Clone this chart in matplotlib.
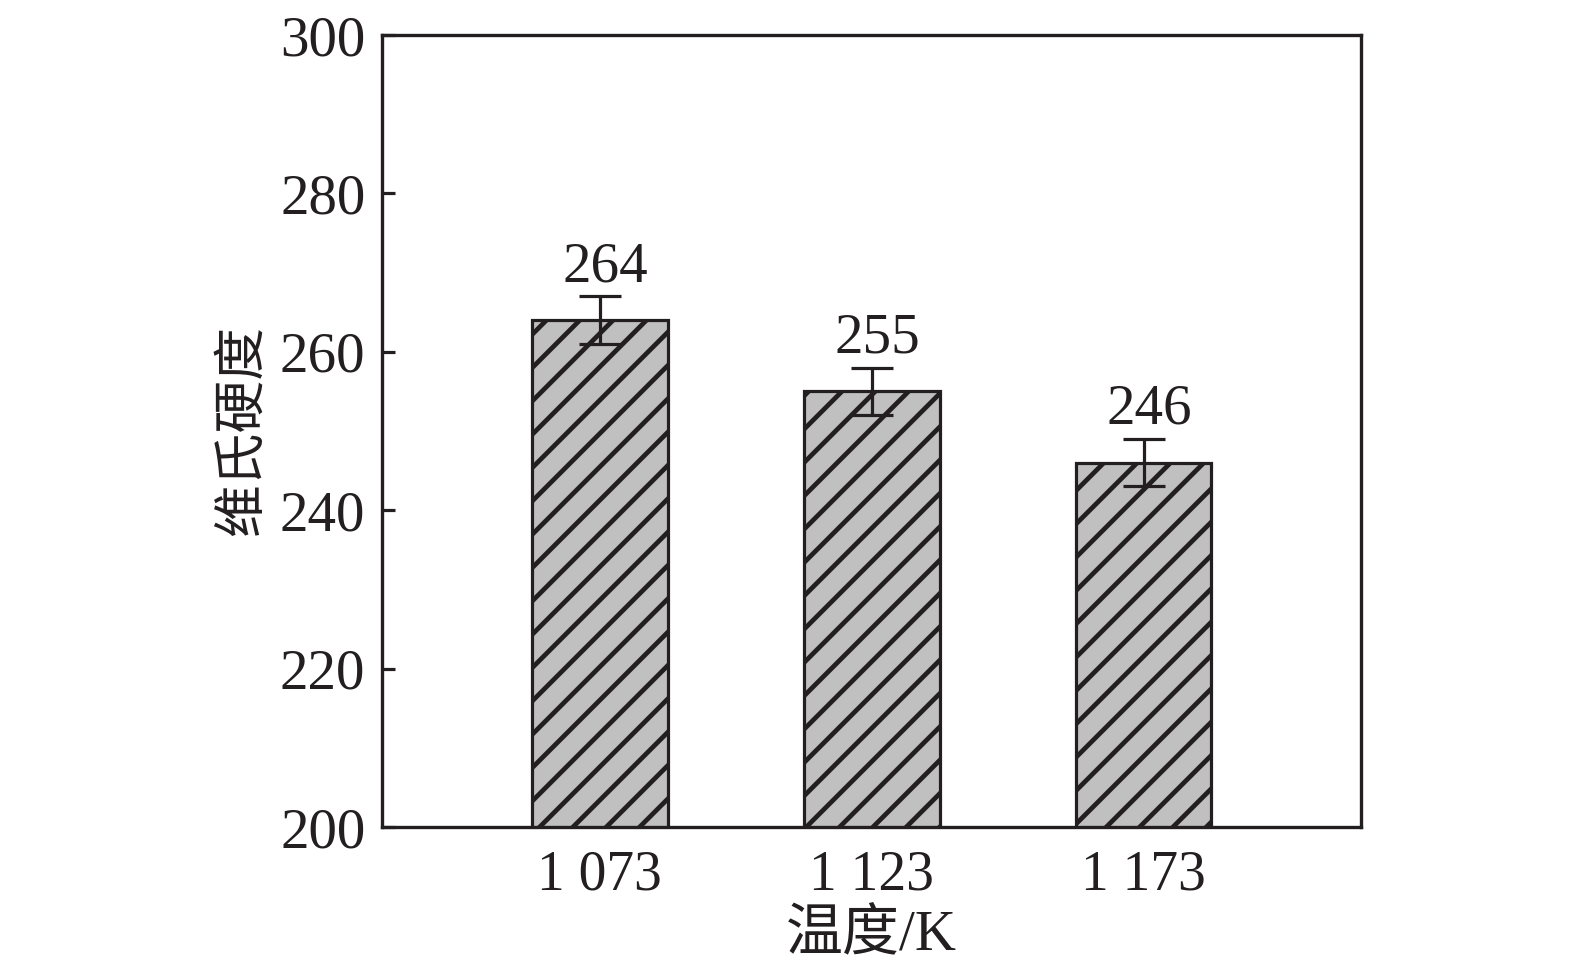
import numpy as np
from matplotlib import pyplot as plt

plt.rcParams['font.family'] = ['Liberation Serif', 'Noto Sans CJK SC']
plt.rcParams['hatch.linewidth'] = 3.4
plt.rcParams['hatch.color'] = '#231f20'

temps = ['1 073', '1 123', '1 173']
hardness = [264, 255, 246]
errors = [3, 3, 3]

ink = '#231f20'

fig = plt.figure(figsize=(15.75, 9.76), dpi=100)
ax = fig.add_axes([382 / 1575, 1 - 827 / 976, (1361 - 382) / 1575, (827 - 35) / 976])

x = np.arange(len(temps))
ax.bar(x, hardness, width=0.5, color='#c0c0c0', edgecolor=ink, linewidth=2.3, hatch='/', zorder=2)
ax.errorbar(x, hardness, yerr=errors, fmt='none', ecolor=ink, elinewidth=2.3, capsize=15, capthick=2.3, zorder=3)

# value labels above the error bars
for xi, h, e in zip(x, hardness, errors):
    ax.text(xi + 0.02, h + e + 0.4, str(h), ha='center', va='bottom', fontsize=41, color=ink)

ax.set_xlim(-0.801, 2.80)
ax.set_ylim(200, 300)
ax.set_xticks(x)
ax.set_xticklabels(temps)
ax.set_yticks(np.arange(200, 301, 20))

ax.tick_params(direction='in', length=9, width=2.3, labelsize=41, colors=ink)
ax.tick_params(axis='x', pad=16, labelsize=40)
ax.tick_params(axis='y', pad=12)
for s in ax.spines.values():
    s.set_linewidth(2.4)
    s.set_color(ink)

ax.set_xlabel('温度/K', fontsize=41, color=ink, labelpad=6)
ax.set_ylabel('维氏硬度', fontsize=38, color=ink, labelpad=9)

fig.savefig('out.png', dpi=100)
